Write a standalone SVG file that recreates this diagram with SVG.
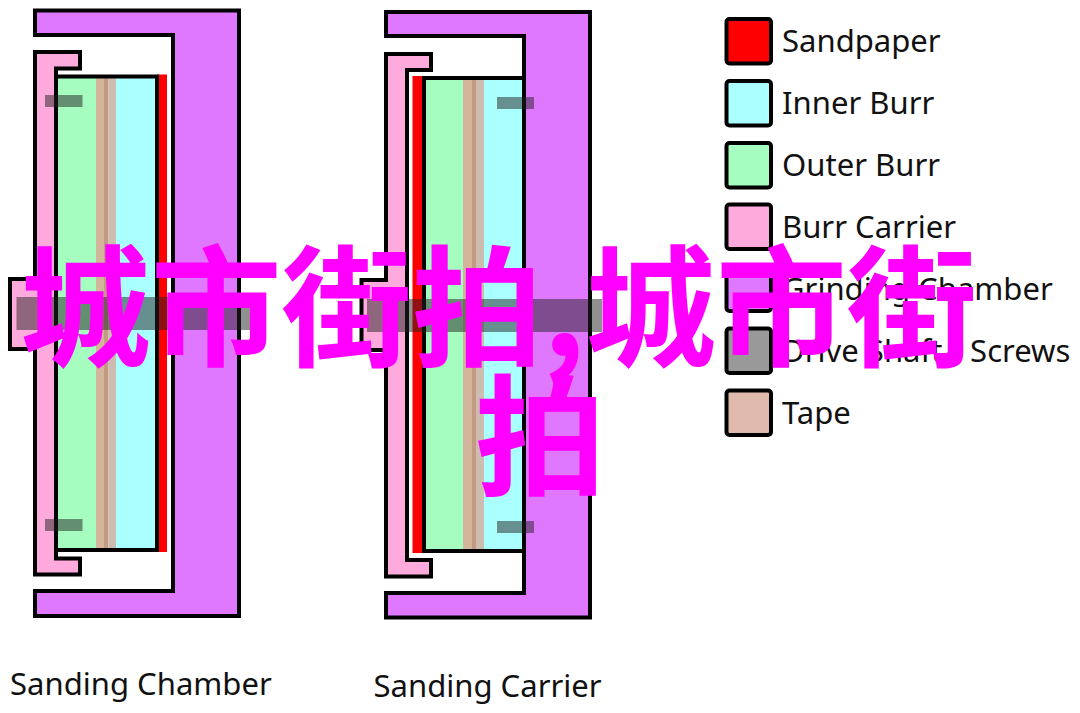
<svg xmlns="http://www.w3.org/2000/svg" width="1080" height="713" viewBox="0 0 1080 713">
<style>
.o{stroke:#000;stroke-width:4;stroke-linejoin:miter}
.pu{fill:#df77ff}.pi{fill:#ffaadd}.re{fill:#ff0000}.gr{fill:#a5fdbf}.cy{fill:#aaffff}
.t1{fill:#d2b59b}.t2{fill:#c49a82}.t3{fill:#cdbcb0}
.sh{fill:#222222;fill-opacity:.5}
.sw{stroke:#000;stroke-width:4}
.lb{font-family:"Noto Sans","Open Sans",sans-serif;font-size:31.05px;fill:#111}
.ov{font-family:"Noto Sans CJK SC","Noto Sans CJK JP",sans-serif;font-weight:700;font-size:130.7px;fill:#ff00ff}
</style>
<rect width="1080" height="713" fill="#fff"/>
<g id="sanding-chamber">
<polygon class="pu o" points="35,10.5 239,10.5 239,616 35,616 35,591 173,591 173,35 35,35"/>
<polygon class="pi o" points="35,52 80,52 80,68.5 56,68.5 56,558.5 80,558.5 80,574.5 35,574.5 35,349 10,349 10,279 35,279"/>
<rect class="re" x="157" y="74.5" width="10" height="477.5"/>
<rect class="gr" x="56" y="76.5" width="40" height="473.5"/>
<rect class="t1" x="96" y="76.5" width="8" height="473.5"/>
<rect class="t2" x="104" y="76.5" width="4.500" height="473.5"/>
<rect class="t3" x="108.500" y="76.5" width="7.500" height="473.5"/>
<rect class="cy" x="116" y="76.5" width="41" height="473.5"/>
<rect x="56" y="76.5" width="101" height="473.5" fill="none" class="o"/>
<rect class="sh" x="45" y="95" width="37.500" height="12"/>
<rect class="sh" x="45" y="519" width="37.500" height="12"/>
<rect class="sh" x="16.500" y="297" width="234" height="33"/>
</g>
<g id="sanding-carrier">
<polygon class="pu o" points="386,12 590,12 590,617.500 386,617.500 386,593 524,593 524,36 386,36"/>
<polygon class="pi o" points="386,54 431,54 431,70 407,70 407,560 431,560 431,576.500 386,576.500 386,350 361.500,350 361.500,280 386,280"/>
<rect class="re" x="412.500" y="76" width="11.500" height="477"/>
<rect class="gr" x="424" y="78" width="39" height="473"/>
<rect class="t1" x="463" y="78" width="9" height="473"/>
<rect class="t2" x="472" y="78" width="4" height="473"/>
<rect class="t3" x="476" y="78" width="8" height="473"/>
<rect class="cy" x="484" y="78" width="40" height="473"/>
<rect x="424" y="78" width="100" height="473" fill="none" class="o"/>
<rect class="sh" x="497" y="97" width="37" height="12"/>
<rect class="sh" x="497" y="521" width="37" height="12"/>
<rect class="sh" x="367" y="299" width="235" height="33"/>
</g>
<g id="legend">
<g id="legend-sandpaper"><rect class="sw re" x="726.500" y="19" width="44.500" height="44.500" rx="3"/><text class="lb" x="782" y="52">Sandpaper</text></g>
<g id="legend-inner-burr"><rect class="sw cy" x="726.500" y="81" width="44.500" height="44.500" rx="3"/><text class="lb" x="782" y="114">Inner Burr</text></g>
<g id="legend-outer-burr"><rect class="sw gr" x="726.500" y="143" width="44.500" height="44.500" rx="3"/><text class="lb" x="782" y="176">Outer Burr</text></g>
<g id="legend-burr-carrier"><rect class="sw pi" x="726.500" y="204.500" width="44.500" height="44.500" rx="3"/><text class="lb" x="782" y="238">Burr Carrier</text></g>
<g id="legend-grinding-chamber"><rect class="sw pu" x="726.500" y="266.500" width="44.500" height="44.500" rx="3"/><text class="lb" x="782" y="300">Grinding Chamber</text></g>
<g id="legend-drive-shaft"><rect class="sw" fill="#999999" x="726.500" y="328.500" width="44.500" height="44.500" rx="3"/><text class="lb" x="782" y="362">Drive Shaft / Screws</text></g>
<g id="legend-tape"><rect class="sw" fill="#deb9ac" x="726.500" y="390.500" width="44.500" height="44.500" rx="3"/><text class="lb" x="782" y="424">Tape</text></g>
</g>
<text class="lb" x="10" y="695">Sanding Chamber</text>
<text class="lb" x="373.500" y="697">Sanding Carrier</text>
<g id="overlay-title">
<text class="ov" x="20" y="356">城市街拍,城市街</text>
<text class="ov" x="475" y="485">拍</text>
</g>
</svg>
